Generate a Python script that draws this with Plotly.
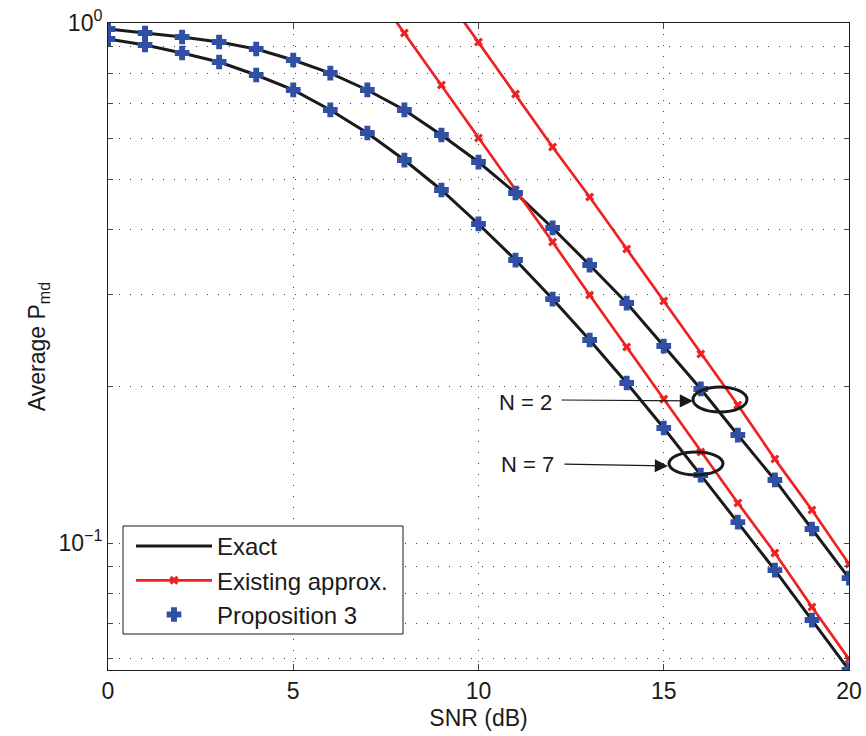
import plotly.graph_objects as go

snr = list(range(21))
exact_n2 = [0.9738, 0.9567, 0.9399, 0.9194, 0.8913, 0.8488, 0.8013, 0.7434, 0.6804, 0.6090,
            0.5403, 0.4711, 0.4035, 0.3424, 0.2894, 0.2392, 0.1978, 0.1613, 0.1322, 0.1064, 0.0856]
exact_n7 = [0.9316, 0.9072, 0.8756, 0.8414, 0.7943, 0.7434, 0.6804, 0.6144, 0.5451, 0.4774,
            0.4107, 0.3501, 0.2945, 0.2457, 0.2031, 0.1664, 0.1351, 0.1097, 0.0887, 0.0711, 0.0570]
prop3_n2 = exact_n2
prop3_n7 = exact_n7
snr_approx_n2 = list(range(9, 21))
approx_n2 = [1.157, 0.9194, 0.7303, 0.5774, 0.4628, 0.3676, 0.2920, 0.2309, 0.1842, 0.1450, 0.1157, 0.0911]
snr_approx_n7 = list(range(7, 21))
approx_n7 = [1.204, 0.9567, 0.7598, 0.6009, 0.4774, 0.3792, 0.2998, 0.2381, 0.1891, 0.1496,
             0.1194, 0.0957, 0.0753, 0.0598]

y_tickvals = [0.06, 0.07, 0.08, 0.09, 0.1, 0.2, 0.3, 0.4, 0.5, 0.6, 0.7, 0.8, 0.9, 1.0]
y_ticktext = ["", "", "", "", "10<sup>−1</sup>", "", "", "", "", "", "", "", "", "10<sup>0</sup>"]
x_tickvals = [0, 5, 10, 15, 20]

BLACK = "#1a1a1a"
RED = "#ee2222"
BLUE = "#3050a5"
FONT = "Liberation Sans, Arial, sans-serif"
FS = 23

fig = go.Figure()
fig.add_trace(go.Scatter(x=snr, y=exact_n2, mode="lines", name="Exact",
                         line=dict(color=BLACK, width=3), legendgroup="a"))
fig.add_trace(go.Scatter(x=snr, y=exact_n7, mode="lines", name="Exact", showlegend=False,
                         line=dict(color=BLACK, width=3), legendgroup="a"))
fig.add_trace(go.Scatter(x=snr_approx_n2, y=approx_n2, mode="lines+markers", name="Existing approx.",
                         line=dict(color=RED, width=2.7), marker=dict(symbol="x", size=8, color=RED),
                         legendgroup="b"))
fig.add_trace(go.Scatter(x=snr_approx_n7, y=approx_n7, mode="lines+markers", name="Existing approx.",
                         showlegend=False, line=dict(color=RED, width=2.7),
                         marker=dict(symbol="x", size=8, color=RED), legendgroup="b"))
fig.add_trace(go.Scatter(x=snr, y=prop3_n2, mode="markers", name="Proposition 3",
                         marker=dict(symbol="cross", size=11, color=BLUE, line=dict(color=BLUE, width=1.5)),
                         legendgroup="c"))
fig.add_trace(go.Scatter(x=snr, y=prop3_n7, mode="markers", name="Proposition 3", showlegend=False,
                         marker=dict(symbol="cross", size=11, color=BLUE, line=dict(color=BLUE, width=1.5)),
                         legendgroup="c"))

L, R, T, B = 108, 849, 23, 670


def px(x):
    return (x - L) / (R - L)


def py(y):
    return (B - y) / (B - T)


shapes = [
    dict(type="rect", xref="paper", yref="paper", x0=px(123), x1=px(403), y0=py(634), y1=py(526),
         line=dict(color=BLACK, width=1), fillcolor="white", layer="above"),
    dict(type="circle", xref="paper", yref="paper", x0=px(693), x1=px(747), y0=py(412), y1=py(387),
         line=dict(color=BLACK, width=3)),
    dict(type="circle", xref="paper", yref="paper", x0=px(669), x1=px(723), y0=py(475), y1=py(452),
         line=dict(color=BLACK, width=3)),
]

annotations = [
    dict(xref="paper", yref="paper", x=px(525), y=py(402), text="N = 2", showarrow=False,
         font=dict(size=22, color=BLACK, family=FONT), xanchor="center", yanchor="middle"),
    dict(xref="paper", yref="paper", x=px(527), y=py(465), text="N = 7", showarrow=False,
         font=dict(size=22, color=BLACK, family=FONT), xanchor="center", yanchor="middle"),
    dict(xref="paper", yref="paper", x=px(693), y=py(401), text="", showarrow=True,
         ax=560 - 693, ay=400 - 401, arrowhead=2, arrowsize=2.2, arrowwidth=1.2, arrowcolor=BLACK,
         standoff=0, startstandoff=0),
    dict(xref="paper", yref="paper", x=px(668), y=py(466), text="", showarrow=True,
         ax=563 - 668, ay=464 - 466, arrowhead=2, arrowsize=2.2, arrowwidth=1.2, arrowcolor=BLACK,
         standoff=0, startstandoff=0),
]

fig.update_layout(
    width=866, height=736,
    margin=dict(l=L, r=866 - R, t=T, b=736 - B, autoexpand=False),
    paper_bgcolor="white", plot_bgcolor="white",
    font=dict(family=FONT, size=FS, color=BLACK),
    shapes=shapes, annotations=annotations,
    legend=dict(x=px(131), y=py(524), xanchor="left", yanchor="top",
                borderwidth=0, bgcolor="rgba(0,0,0,0)",
                font=dict(size=24, family=FONT, color=BLACK),
                tracegroupgap=0, itemwidth=76),
)
fig.update_xaxes(range=[0, 20], tickvals=x_tickvals, ticks="inside", ticklen=6,
                 showline=True, linecolor=BLACK, linewidth=1, mirror="ticks",
                 showgrid=True, gridcolor="#444", griddash="1px,10px", gridwidth=1,
                 zeroline=False, tickfont=dict(size=FS), automargin=False,
                 title=dict(text="SNR (dB)", font=dict(size=FS), standoff=7))
fig.update_yaxes(type="log", range=[-1.2442, 0], tickvals=y_tickvals, ticktext=y_ticktext,
                 ticks="inside", ticklen=5,
                 showline=True, linecolor=BLACK, linewidth=1, mirror="ticks",
                 showgrid=True, gridcolor="#444", griddash="1px,10px", gridwidth=1,
                 zeroline=False, tickfont=dict(size=FS), automargin=False,
                 title=dict(text="Average P<sub>md</sub>", font=dict(size=FS), standoff=6))

fig.write_html("out.html")
